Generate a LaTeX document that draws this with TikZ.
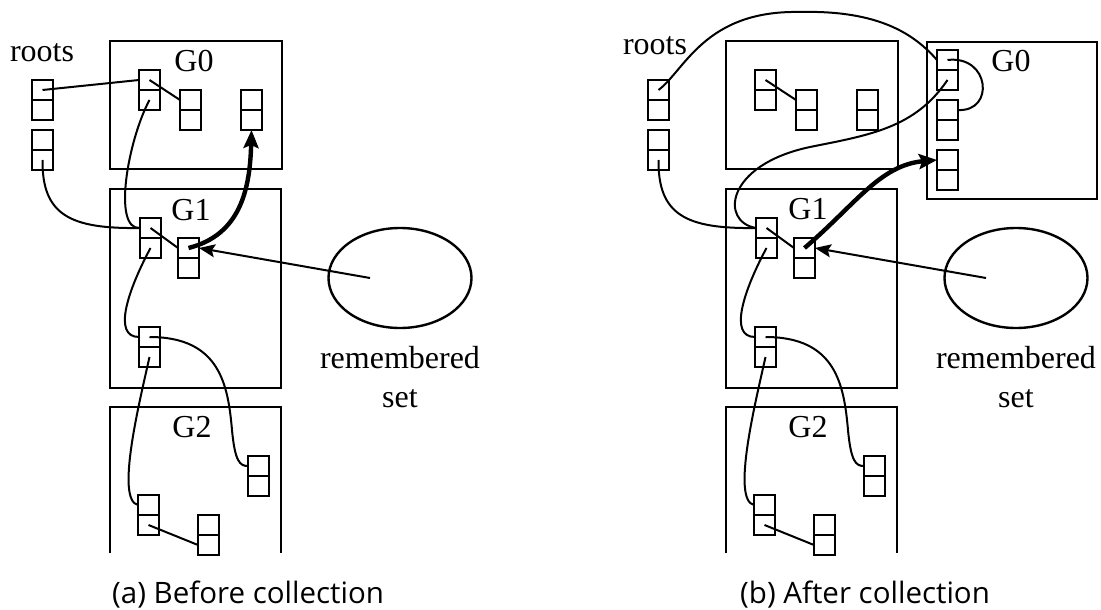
\documentclass[tikz,border=0pt]{standalone}
\usepackage{fontspec}
\setmainfont{Liberation Serif}
\newfontfamily\capfont{Open Sans}
\usetikzlibrary{shapes,arrows.meta,positioning}

\tikzset{
  cell/.style={draw, line width=2.2pt, rectangle, minimum width=21pt, minimum height=20pt, inner sep=0pt, outer sep=0pt},
  genbox/.style={line width=2.8pt},
  ptr/.style={line width=2pt},
  bigptr/.style={line width=4.4pt, -{Stealth[length=18pt,width=15pt,inset=3pt]}},
  rsptr/.style={line width=2pt, -{Stealth[length=16pt,width=13pt,inset=3pt]}},
  rset/.style={draw, ellipse, line width=2.4pt, minimum width=143pt, minimum height=100pt},
  lbl/.style={font=\fontsize{32}{38}\selectfont, inner sep=0pt},
  capt/.style={font=\capfont\fontsize{29.5}{34}\selectfont, inner sep=0pt}
}
% two-cell heap object, top left corner at (#2,#3)
\newcommand{\heapobj}[3]{%
  \node[cell, anchor=north west] (#1t) at (#2,#3) {};
  \node[cell, anchor=north] (#1b) at (#1t.south) {};
}

\begin{document}
\begin{tikzpicture}[x=1pt,y=-1pt]
\useasboundingbox (0,0) rectangle (1101,610);
% (a) before collection
\draw[genbox] (110,41) rectangle (282,169);
\draw[genbox] (110,189) rectangle (281,388);
\draw[genbox] (110,553) -- (110,407) -- (281,407) -- (281,553);
\node[lbl, anchor=base] (rootsA) at (42,62) {roots};
\node[lbl, anchor=base] (g0A) at (194,72) {G0};
\node[lbl, anchor=base] (g1A) at (191,220) {G1};
\node[lbl, anchor=base] (g2A) at (192,437) {G2};
\heapobj{ar1}{32}{80}
\heapobj{ar2}{32}{130}
\heapobj{aA}{139}{70}
\heapobj{aB}{180}{90}
\heapobj{aC}{241}{90}
\heapobj{aD}{140}{218}
\heapobj{aE}{178}{238}
\heapobj{aF}{139}{327}
\heapobj{aH}{248}{456}
\heapobj{aI}{138}{495}
\heapobj{aJ}{198}{515}
\node[rset] (rsA) at (400,278) {};
\coordinate (rsAin) at (370,278);
\node[lbl, anchor=base] (remA) at (400,368) {remembered};
\node[lbl, anchor=base] (setA) at (400,407) {set};
\draw[ptr] (ar1t.center) -- (aAt.west);
\draw[ptr] (aAt.center) -- (aBt.west);
\draw[ptr] (aAb.center) .. controls (128,140) and (112,230) .. (aDt.west);
\draw[ptr] (ar2b.center) .. controls (42,215) and (70,229) .. (aDt.west);
\draw[ptr] (aDt.center) -- (aEt.west);
\draw[bigptr] (aEt.center) .. controls (240,235) and (250,190) .. (aCb.south);
\draw[rsptr] (rsAin) -- (aEt.east);
\draw[ptr] (aDb.center) .. controls (128,290) and (112,337) .. (aFt.west);
\draw[ptr] (aFt.center) .. controls (220,337) and (228,385) .. (232,430) .. controls (235,462) and (240,466) .. (aHt.west);
\draw[ptr] (aFb.center) .. controls (140,400) and (115,500) .. (aIt.west);
\draw[ptr] (aIb.center) -- (aJb.west);
\node[capt, anchor=base west] (capA) at (112,603) {(a) Before collection};
% (b) after collection
\draw[genbox] (726,41) rectangle (898,169);
\draw[genbox] (927,42) rectangle (1097,199);
\draw[genbox] (726,189) rectangle (897,388);
\draw[genbox] (726,553) -- (726,407) -- (897,407) -- (897,553);
\node[lbl, anchor=base] (rootsB) at (655,55) {roots};
\node[lbl, anchor=base] (g0B) at (1011,72) {G0};
\node[lbl, anchor=base] (g1B) at (808,219) {G1};
\node[lbl, anchor=base] (g2B) at (808,437) {G2};
\heapobj{br1}{648}{80}
\heapobj{br2}{648}{130}
\heapobj{bA}{755}{70}
\heapobj{bB}{796}{90}
\heapobj{bC}{857}{90}
\heapobj{bK}{937}{50}
\heapobj{bL}{937}{100}
\heapobj{bM}{937}{150}
\heapobj{bD}{756}{218}
\heapobj{bE}{794}{238}
\heapobj{bF}{755}{327}
\heapobj{bH}{864}{456}
\heapobj{bI}{754}{495}
\heapobj{bJ}{814}{515}
\node[rset] (rsB) at (1016,278) {};
\coordinate (rsBin) at (986,278);
\node[lbl, anchor=base] (remB) at (1016,368) {remembered};
\node[lbl, anchor=base] (setB) at (1016,407) {set};
\draw[ptr] (bAt.center) -- (bBt.west);
\draw[ptr] (br1t.center) .. controls (685,70) and (705,10) .. (800,12) .. controls (880,10) and (915,35) .. (bKt.west);
\draw[ptr] (bKt.center) .. controls (990,55) and (995,112) .. (bLt.east);
\draw[ptr] (bKb.center) .. controls (915,128) and (870,135) .. (810,147) .. controls (725,165) and (720,222) .. (bDt.west);
\draw[ptr] (br2b.center) .. controls (658,215) and (686,229) .. (bDt.west);
\draw[ptr] (bDt.center) -- (bEt.west);
\draw[bigptr] (bEt.center) .. controls (855,205) and (880,165) .. (bMt.west);
\draw[rsptr] (rsBin) -- (bEt.east);
\draw[ptr] (bDb.center) .. controls (744,290) and (728,337) .. (bFt.west);
\draw[ptr] (bFt.center) .. controls (836,337) and (844,385) .. (848,430) .. controls (851,462) and (856,466) .. (bHt.west);
\draw[ptr] (bFb.center) .. controls (756,400) and (731,500) .. (bIt.west);
\draw[ptr] (bIb.center) -- (bJb.west);
\node[capt, anchor=base west] (capB) at (740,603) {(b) After collection};
\end{tikzpicture}
\end{document}
